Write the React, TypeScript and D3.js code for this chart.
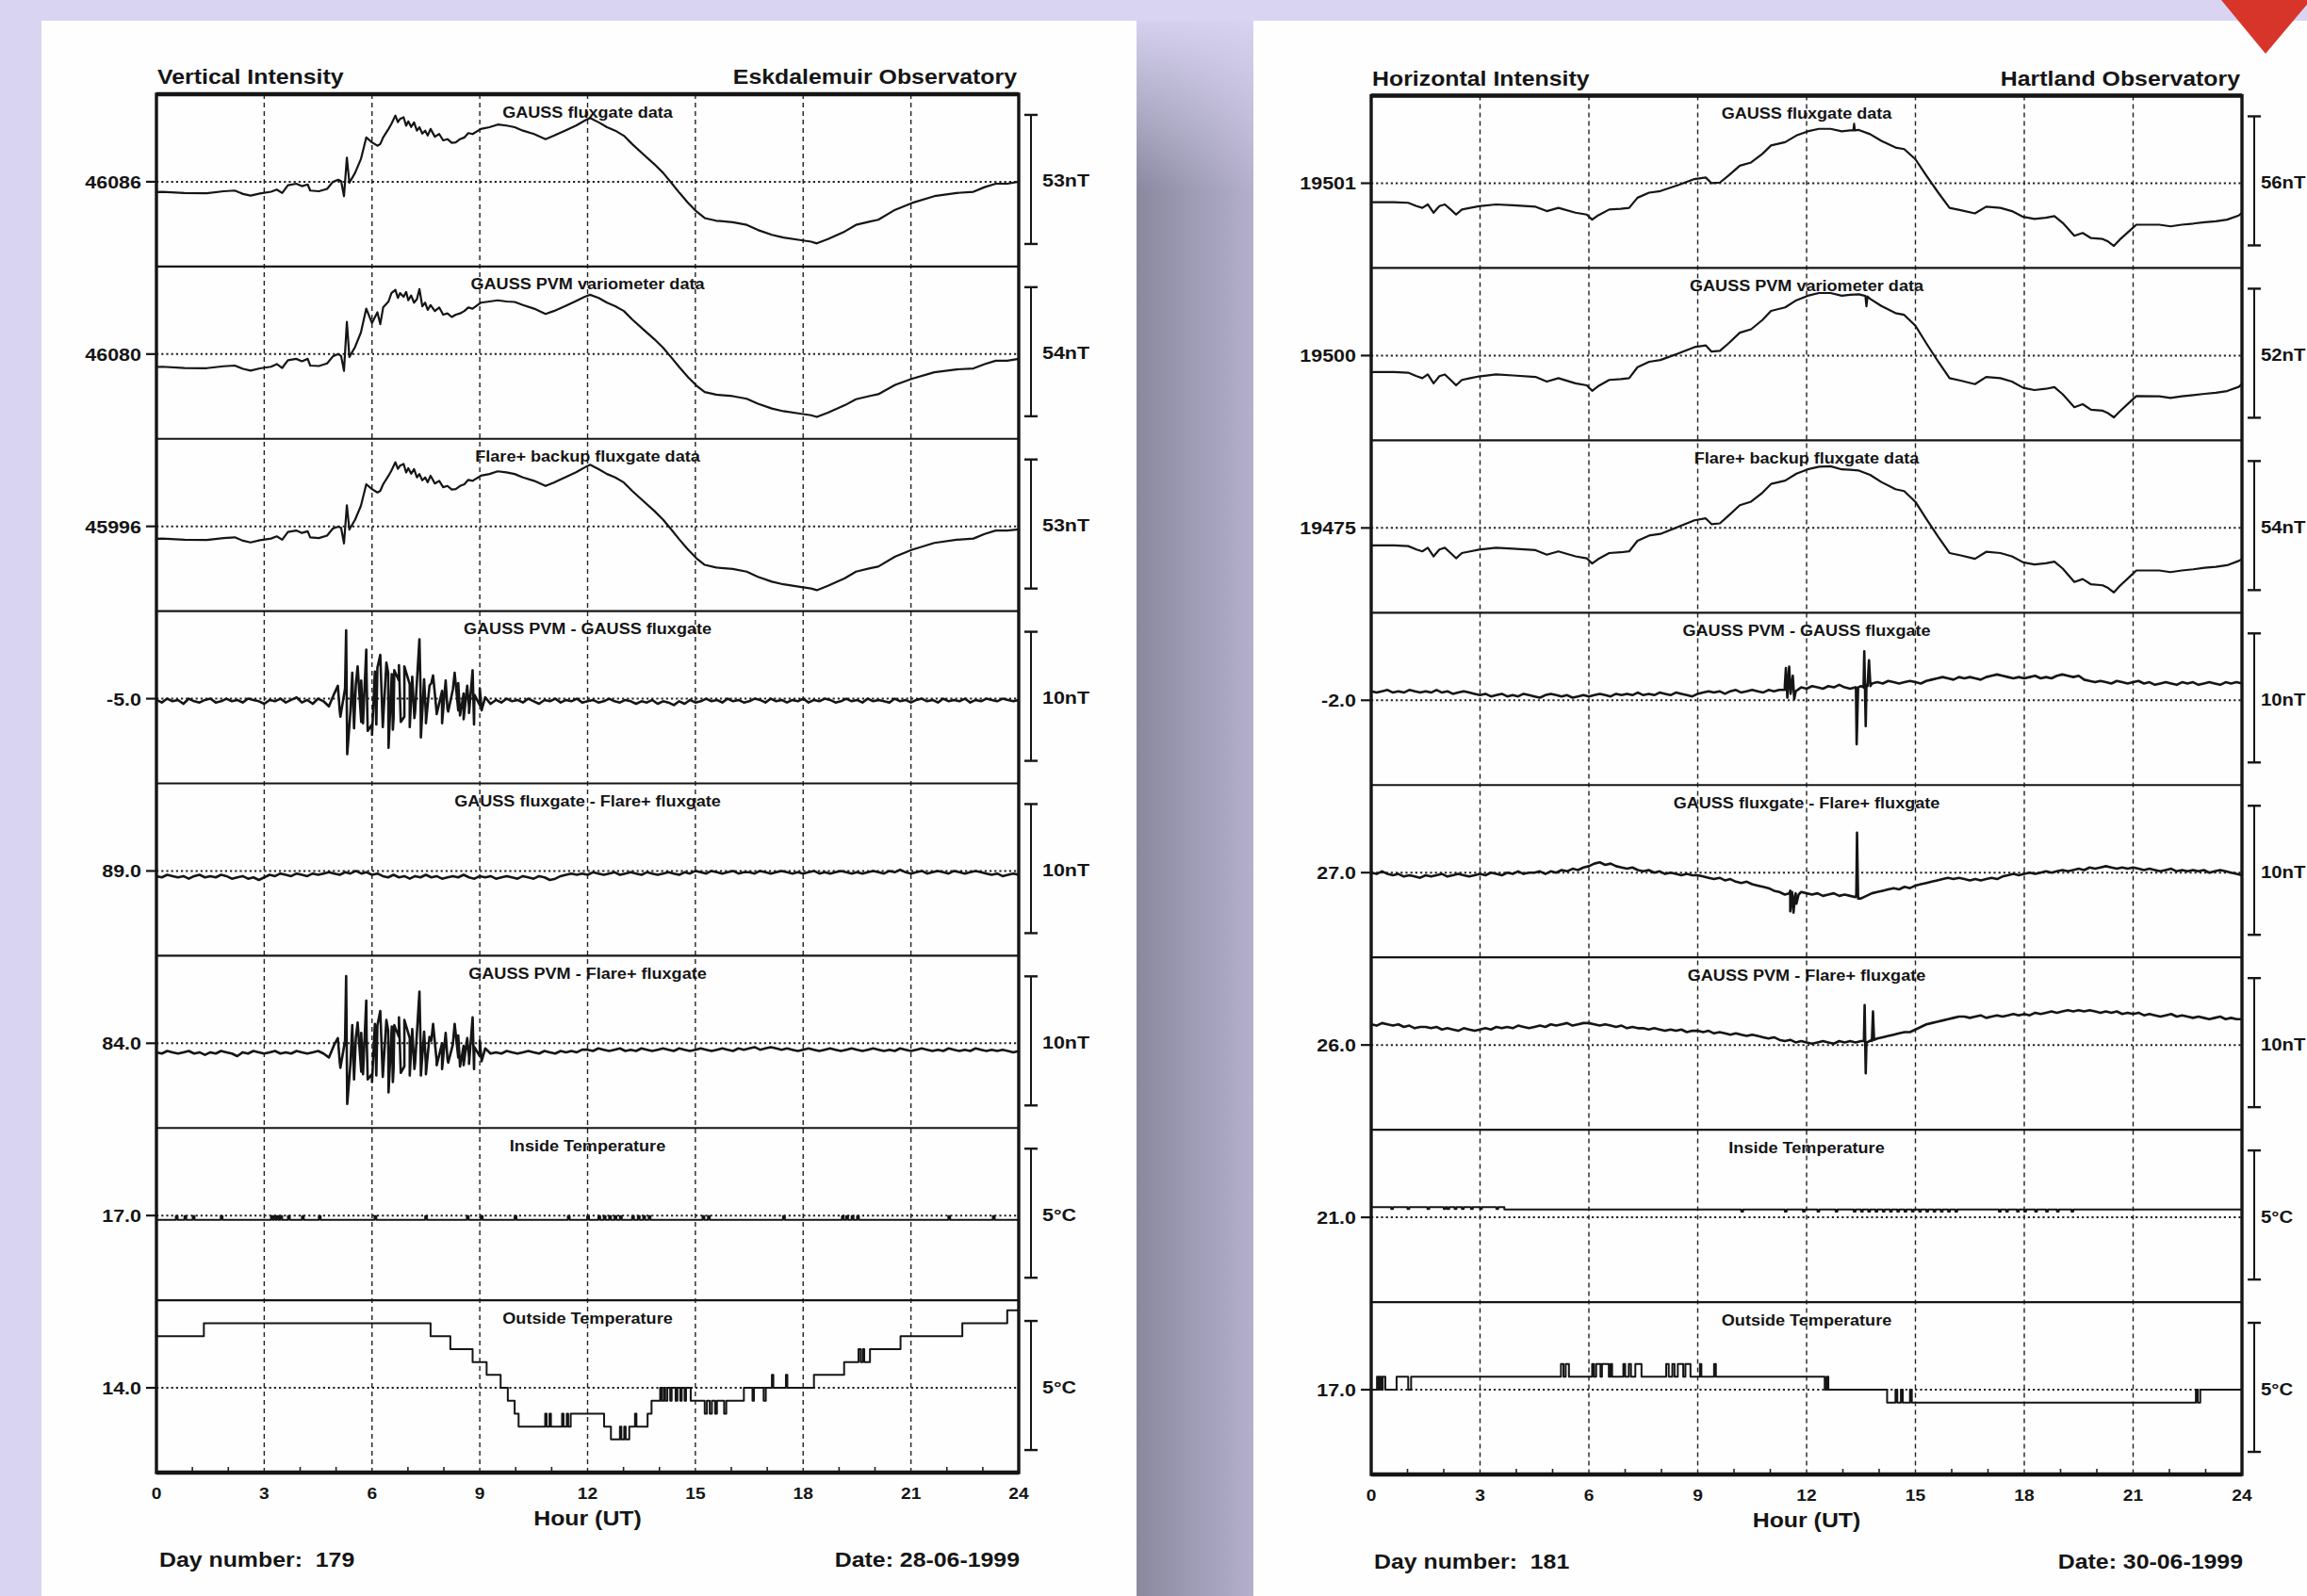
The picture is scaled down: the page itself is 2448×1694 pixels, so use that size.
import React from 'react';
import * as d3 from 'd3';

// ---------------- DATA ----------------
const HOUR_TICKS = [0, 3, 6, 9, 12, 15, 18, 21, 24];
const GRID_HOURS = [3, 6, 9, 12, 15, 18, 21];
const MINOR_HOURS = [1, 2, 4, 5, 7, 8, 10, 11, 13, 14, 16, 17, 19, 20, 22, 23];
const NOISE_STEP = 0.15; // hours between samples of the difference traces

const STRIP_TITLES = ['GAUSS fluxgate data', 'GAUSS PVM variometer data', 'Flare+ backup fluxgate data', 'GAUSS PVM - GAUSS fluxgate', 'GAUSS fluxgate - Flare+ fluxgate', 'GAUSS PVM - Flare+ fluxgate', 'Inside Temperature', 'Outside Temperature'];

// Eskdalemuir (left)
const L_REF_LABELS = ['46086', '46080', '45996', '-5.0', '89.0', '84.0', '17.0', '14.0'];
const L_CENTERS = [0, 0, 0, -5.0, 89.0, 84.0, 17.0, 14.0];
const L_BARS = [53, 54, 53, 10, 10, 10, 5, 5];
const L_BAR_LABELS = ['53nT', '54nT', '53nT', '10nT', '10nT', '10nT', '5°C', '5°C'];

// Hartland (right)
const R_REF_LABELS = ['19501', '19500', '19475', '-2.0', '27.0', '26.0', '21.0', '17.0'];
const R_CENTERS = [0, 0, 0, -2.0, 27.0, 26.0, 21.0, 17.0];
const R_BARS = [56, 52, 54, 10, 10, 10, 5, 5];
const R_BAR_LABELS = ['56nT', '52nT', '54nT', '10nT', '10nT', '10nT', '5°C', '5°C'];

// hours of the main-field samples (left), nT deviation from reference level
const T_L = [0.00,0.16,0.78,1.40,1.87,2.18,2.41,2.62,2.88,3.19,3.35,3.50,3.66,3.89,4.05,4.21,4.28,4.52,4.75,4.91,5.06,5.14,5.22,5.30,5.37,5.53,5.69,5.84,6.00,6.15,6.23,6.31,6.46,6.54,6.65,6.72,6.78,6.88,6.95,7.01,7.09,7.17,7.25,7.32,7.40,7.48,7.55,7.63,7.75,7.87,7.98,8.10,8.22,8.33,8.45,8.57,8.68,8.80,9.03,9.27,9.50,9.74,9.97,10.20,10.51,10.83,11.06,11.37,11.68,11.92,12.07,12.31,12.54,12.77,13.01,13.24,13.55,13.86,14.10,14.33,14.56,14.80,15.03,15.26,15.58,16.04,16.43,16.74,17.13,17.45,17.91,18.22,18.38,18.69,19.16,19.47,19.86,20.09,20.56,21.03,21.65,22.27,22.74,23.05,23.36,23.68,24.00];
const L1 = [-4.2,-4.1,-4.6,-4.7,-3.9,-3.6,-5.0,-5.7,-4.8,-4.1,
-3.2,-4.6,-1.4,-0.8,-1.8,-1.1,-3.6,-3.9,-2.9,0.0,
0.8,0.3,-5.9,9.9,-0.4,3.7,9.3,18.2,16.2,14.8,
15.5,18.2,21.7,23.8,27.2,24.5,25.8,26.5,23.0,24.8,
22.5,24.4,21.0,22.4,19.8,21.0,19.0,21.7,18.5,19.6,
17.0,17.5,16.0,16.2,17.5,18.2,20.0,19.6,21.7,22.4,
23.5,23.1,22.4,21.0,19.6,17.5,18.9,21.0,23.1,25.1,
26.2,24.4,22.4,21.0,18.9,15.5,11.3,7.2,3.7,-0.4,
-4.6,-8.7,-12.2,-14.9,-16.0,-16.6,-17.7,-19.8,-21.8,-22.9,
-23.9,-24.6,-25.3,-23.5,-20.4,-17.7,-16.3,-15.6,-11.5,-8.7,
-5.9,-4.6,-4.1,-2.2,-0.8,-0.8,0.0];
const L2 = [-5.4,-5.3,-5.8,-5.9,-5.1,-4.8,-6.2,-6.9,-6.0,-5.3,
-4.2,-5.8,-2.6,-2.0,-3.0,-2.0,-4.8,-5.0,-3.9,-1.0,
0.0,-0.8,-7.0,13.5,-1.2,3.0,9.0,19.0,13.0,17.5,
12.5,19.5,22.0,25.5,26.9,23.5,25.5,24.0,26.0,22.5,
24.5,21.5,23.0,27.2,20.0,21.5,18.5,20.5,18.0,19.5,
16.5,17.0,15.5,16.5,17.0,18.0,19.5,19.0,21.5,22.0,
22.5,22.0,21.8,20.5,19.0,16.8,18.0,20.0,22.2,24.0,
24.8,23.5,21.5,20.0,18.0,14.5,10.3,6.2,2.7,-1.4,
-5.6,-9.7,-13.2,-15.9,-17.0,-17.6,-18.7,-20.8,-22.8,-23.9,
-24.9,-25.6,-26.3,-24.5,-21.4,-18.9,-17.5,-16.8,-12.9,-10.3,
-7.6,-6.4,-6.0,-4.2,-2.8,-2.8,-2.0];
const L3 = [-5.1,-5.0,-5.5,-5.6,-4.8,-4.5,-5.9,-6.6,-5.7,-5.0,
-4.1,-5.5,-2.3,-1.7,-2.7,-2.0,-4.5,-4.8,-3.8,-0.9,
-0.1,-0.6,-7.0,8.6,-1.3,2.8,8.4,17.3,15.3,13.9,
14.6,17.3,20.8,22.9,26.3,23.6,24.9,25.6,22.1,23.9,
21.6,23.5,20.1,21.5,18.9,20.1,18.1,20.8,17.6,18.7,
16.1,16.6,15.1,15.3,16.6,17.3,19.1,18.7,20.8,21.5,
22.6,22.2,21.5,20.1,18.7,16.6,18.0,20.1,22.2,24.2,
25.3,23.5,21.5,20.1,18.0,14.6,10.4,6.3,2.8,-1.3,
-5.5,-9.6,-13.1,-15.8,-16.9,-17.5,-18.6,-20.7,-22.7,-23.8,
-24.8,-25.5,-26.2,-24.4,-21.3,-18.6,-17.2,-16.5,-12.4,-9.6,
-6.8,-5.5,-5.0,-3.1,-1.7,-1.7,-1.2];

// difference traces (left), sampled every NOISE_STEP hours
const L4 = [-5.1,-5.3,-5.0,-5.2,-5.1,-5.4,-5.0,-5.2,-5.3,-5.1,
-5.0,-5.3,-5.2,-5.0,-5.2,-5.1,-5.3,-5.0,-5.1,-5.2,
-5.4,-5.1,-5.2,-5.0,-5.3,-5.1,-4.9,-5.3,-5.1,-5.4,
-5.0,-5.2,
-5.6,-4.6,-5.9,-4.2,-6.0,-3.9,-6.8,-3.4,-7.0,-2.6,
-7.2,-3.0,-6.5,-3.6,-6.4,-3.9,-6.0,-4.2,-6.3,-3.8,
-6.1,-4.4,-5.8,-4.3,-5.9,-4.6,-5.7,-4.7,-5.5,-4.9,
-5.4,
-5.1,-5.3,-5.0,-5.2,-5.1,-5.3,-5.0,-5.2,-5.4,-5.1,
-5.2,-5.0,-5.3,-5.1,-5.2,-5.0,-5.3,-5.2,-5.1,-5.3,
-5.2,-5.0,-5.2,-5.3,-5.1,-5.2,-5.4,-5.2,-5.3,-5.1,
-5.4,-5.2,-5.3,-5.5,-5.2,-5.4,-5.1,-5.3,-5.2,-5.0,
-5.2,-5.1,-5.3,-5.0,-5.2,-5.1,-5.3,-5.2,-5.0,-5.1,
-5.3,-5.0,-5.2,-5.1,-5.3,-5.1,-5.2,-5.0,-5.3,-5.1,
-5.2,-5.0,-5.1,-5.3,-5.2,-5.0,-5.2,-5.1,-5.3,-5.0,
-5.2,-5.1,-5.2,-5.3,-5.0,-5.2,-5.1,-5.3,-5.1,-5.0,
-5.2,-5.1,-5.3,-5.0,-5.2,-5.1,-5.2,-5.0,-5.3,-5.1,
-5.2,-5.0,-5.1,-5.2,-5.0,-5.1,-5.2,-5.1];
const L4_SPIKES = [[5.05,-4.0],[5.12,-6.4],[5.28,0.3],[5.31,-9.3],[5.45,-3.0],[5.50,-7.3],[5.60,-2.5],[5.70,-3.6],[5.75,-6.9],[5.84,-1.2],[5.88,-7.5],[6.00,-7.8],[6.08,-2.9],[6.12,-7.0],[6.23,-1.6],[6.40,-2.2],[6.46,-8.8],[6.55,-3.1],[6.58,-7.4],[6.62,-2.8],[6.75,-2.4],[6.80,-6.8],[6.90,-2.5],[7.05,-7.2],[7.12,-3.3],[7.18,-6.5],[7.32,-0.4],[7.36,-8.0],[7.45,-3.5],[7.50,-6.9],[7.60,-4.0],[7.70,-3.2],[7.80,-6.2],[7.95,-6.9],[8.05,-3.6],[8.12,-6.0],[8.30,-3.0],[8.40,-3.8],[8.45,-6.3],[8.55,-6.6],[8.65,-4.0],[8.70,-6.1],[8.80,-2.8],[8.84,-7.0],[9.00,-4.2],[9.05,-5.9]];
const L5 = [88.6,88.5,88.7,88.6,88.5,88.6,88.4,88.6,88.7,88.5,88.6,88.5,88.7,88.6,88.4,88.5,88.6,
88.4,88.5,88.3,88.5,
88.7,88.6,88.8,88.7,88.6,88.8,88.7,88.6,88.8,88.7,
88.8,88.9,88.8,88.7,88.9,88.8,89.0,88.8,88.9,88.7,88.8,
88.6,88.5,88.7,88.5,88.6,88.4,88.6,88.5,88.7,88.5,88.6,88.4,88.5,88.6,88.5,88.7,88.5,88.4,88.6,88.5,88.6,88.4,88.5,88.6,88.5,88.4,88.6,88.5,88.4,88.6,88.5,88.3,88.4,
88.6,88.7,88.8,88.7,
88.8,88.7,88.9,88.8,88.7,88.8,88.9,88.7,88.8,88.9,88.8,88.7,88.9,88.8,88.7,88.8,88.9,88.8,88.7,88.9,88.8,
89.0,88.9,88.8,89.0,88.9,88.8,88.9,89.0,88.8,88.9,
88.9,88.8,89.0,88.9,88.8,88.9,89.0,88.9,88.8,88.9,
88.8,88.9,89.0,88.8,88.9,88.8,88.9,89.0,88.9,88.8,
88.9,88.8,88.9,89.0,88.9,88.8,89.0,88.9,89.1,88.9,
88.8,88.9,89.0,88.8,88.9,89.0,88.9,88.8,89.0,88.9,
88.8,88.9,89.0,88.9,
88.8,88.7,88.8,88.6,88.7,88.8,88.7];
const L6 = [83.3,83.2,83.4,83.3,83.2,83.3,83.4,83.2,83.3,83.1,
83.3,83.2,83.4,83.3,83.2,83.0,83.3,83.2,83.4,83.3,
83.2,83.3,83.4,83.2,83.3,83.2,83.4,83.3,83.2,83.3,
83.4,83.2,
82.9,83.9,82.6,84.2,82.4,84.4,81.8,84.6,81.6,85.4,
81.4,85.0,82.0,84.5,82.2,84.4,82.5,84.1,82.3,84.2,
82.6,84.0,82.8,83.9,82.9,83.8,82.9,83.7,83.0,83.6,
83.2,
83.3,83.2,83.4,83.3,83.2,83.3,83.4,83.3,83.2,83.4,83.3,83.2,83.4,83.3,83.4,83.3,83.5,
83.5,83.4,83.6,83.5,83.4,83.5,83.6,83.4,83.5,83.4,
83.6,83.5,83.4,83.5,83.6,83.5,83.4,83.6,83.5,83.4,
83.5,83.6,83.5,83.4,83.5,83.6,83.5,83.4,83.6,83.5,
83.6,83.7,83.5,83.6,83.7,83.6,83.5,83.6,83.5,83.4,
83.5,83.6,83.5,83.4,83.5,83.6,83.5,83.4,83.5,83.6,
83.5,83.4,83.5,83.6,83.5,83.4,83.5,83.4,83.6,83.5,
83.4,83.5,83.6,83.5,83.4,83.5,83.4,83.6,83.5,83.4,
83.5,83.4,83.6,83.5,83.4,83.5,83.4,83.5,83.4,83.3,
83.4];
const L6_SPIKES = [[5.05,84.4],[5.12,82.1],[5.28,89.2],[5.31,79.3],[5.45,85.4],[5.50,81.2],[5.60,85.6],[5.70,84.8],[5.75,81.6],[5.84,87.3],[5.88,81.2],[6.00,81.0],[6.08,85.5],[6.12,81.5],[6.23,86.5],[6.40,85.8],[6.46,80.2],[6.55,85.3],[6.58,81.0],[6.62,85.4],[6.75,86.0],[6.80,81.7],[6.90,85.8],[7.05,81.5],[7.12,85.1],[7.18,82.0],[7.32,88.0],[7.36,81.5],[7.45,84.9],[7.50,81.6],[7.60,84.5],[7.70,85.5],[7.80,82.3],[7.95,82.0],[8.05,84.8],[8.12,82.5],[8.30,85.5],[8.40,84.6],[8.45,82.2],[8.55,82.3],[8.65,84.4],[8.70,82.4],[8.80,86.0],[8.84,82.0],[9.00,84.2],[9.05,82.6]];

// temperatures (left): [hour, °C] steps
const L7_LEVELS = [[0, 16.83], [24, 16.83]];
const L7_BLIPS = [0.54,0.78,1.01,1.79,3.19,3.27,3.35,3.45,3.66,4.05,4.52,6.07,7.48,8.64,9.03,9.97,11.45,11.99,12.3,12.45,12.6,12.75,12.9,13.24,13.4,13.55,13.7,15.2,15.35,17.44,19.08,19.2,19.35,19.5,22.04,23.28];
const L8_STEPS = [[0,16.0],[1.32,16.5],[7.63,16.0],[8.18,15.5],[8.80,15.0],[9.19,14.5],[9.58,14.0],[9.78,13.5],[9.97,13.0],[10.08,12.5],[10.82,13.0],[10.86,12.5],[10.94,13.0],[10.98,12.5],[11.29,13.0],[11.33,12.5],[11.42,13.0],[11.46,12.5],[11.53,13.0],[12.46,12.5],[12.65,12.0],[12.90,12.5],[12.94,12.0],[13.02,12.5],[13.06,12.0],[13.16,12.5],[13.32,13.0],[13.36,12.5],[13.67,13.0],[13.78,13.5],[14.02,14.0],[14.06,13.5],[14.12,14.0],[14.16,13.5],[14.22,14.0],[14.30,13.5],[14.34,14.0],[14.45,13.5],[14.50,14.0],[14.58,13.5],[14.62,14.0],[14.70,13.5],[14.74,14.0],[14.87,13.5],[15.26,13.0],[15.32,13.5],[15.40,13.0],[15.46,13.5],[15.55,13.0],[15.60,13.5],[15.80,13.0],[15.86,13.5],[16.35,14.0],[16.59,13.5],[16.63,14.0],[16.90,13.5],[16.96,14.0],[17.13,14.5],[17.17,14.0],[17.52,14.5],[17.56,14.0],[18.30,14.5],[19.14,15.0],[19.54,15.5],[19.60,15.0],[19.66,15.5],[19.70,15.0],[19.86,15.5],[20.71,16.0],[22.43,16.5],[23.68,17.0],[24,17.0]];

// main-field samples (right)
const T_R = [0,0.08,0.63,1.02,1.25,1.41,1.56,1.72,1.88,2.03,2.19,2.34,2.50,2.73,2.97,3.44,3.91,4.53,4.84,5.16,5.63,5.94,6.09,6.25,6.56,6.88,7.11,7.34,7.66,7.97,8.44,8.91,9.22,9.38,9.61,9.84,10.16,10.47,10.78,11.02,11.41,11.72,12.03,12.34,12.66,12.97,13.20,13.44,13.75,14.06,14.45,14.69,15.00,15.31,15.63,15.94,16.25,16.64,16.95,17.34,17.66,17.97,18.28,18.59,18.83,19.06,19.38,19.61,19.84,20.16,20.31,20.47,20.63,20.94,21.09,21.72,22.03,22.34,22.66,22.97,23.28,23.59,23.91,24.0];
const R1 = [-8.3,-8.2,-8.2,-8.5,-9.9,-10.7,-9.2,-12.8,-9.9,-9.2,-11.4,-13.6,-11.4,-10.7,-10.0,-9.2,-9.6,-10.2,-12.1,-10.7,-12.8,-13.6,-15.8,-14.0,-11.4,-11.1,-10.7,-6.3,-4.1,-3.4,
-0.9,1.8,2.5,0.0,0.3,3.2,7.6,9.0,12.7,16.4,17.8,20.7,22.5,23.6,23.6,22.5,22.9,23.1,21.3,18.4,15.5,14.8,10.4,3.1,-4.1,-10.7,
-11.7,-13.1,-10.2,-10.7,-12.1,-14.6,-15.5,-15.0,-14.3,-17.2,-22.8,-21.6,-23.8,-24.2,-25.3,-27.2,-24.5,-20.1,-18.0,-18.0,-18.7,-18.0,-17.5,-16.9,-16.5,-15.8,-14.0,-12.8];
const R1_SPIKES = [[13.29,22.9],[13.31,25.8],[13.33,22.9]];
const R2 = [-6.7,-6.6,-6.6,-6.9,-8.3,-9.1,-7.6,-11.2,-8.3,-7.6,-9.8,-12.0,-9.8,-9.1,-8.4,-7.6,-8.0,-8.6,-10.5,-9.1,-11.2,-12.0,-14.2,-12.4,-9.8,-9.5,-9.1,-4.7,-2.5,-1.8,
0.7,3.4,4.1,1.6,1.9,4.8,9.2,10.6,14.3,18.0,19.4,22.3,24.1,25.2,25.2,24.1,24.5,24.7,22.9,20.0,17.1,16.4,12.0,4.7,-2.5,-9.1,
-10.1,-11.5,-8.6,-9.1,-10.5,-13.0,-13.9,-13.4,-12.7,-15.6,-20.8,-19.6,-21.8,-22.2,-23.2,-24.9,-22.5,-18.3,-16.3,-16.4,-17.1,-16.4,-15.9,-15.4,-15.0,-14.3,-12.6,-11.4];
const R2_SPIKES = [[13.62,24.0],[13.65,19.8],[13.68,23.8]];
const R3 = [-7.4,-7.3,-7.3,-7.6,-9.0,-9.8,-8.3,-11.9,-9.0,-8.3,-10.5,-12.7,-10.5,-9.8,-9.1,-8.3,-8.7,-9.3,-11.2,-9.8,-11.9,-12.7,-14.9,-13.1,-10.5,-10.2,-9.8,-5.4,-3.2,-2.5,
0.3,3.2,4.0,1.6,1.9,5.0,9.5,11.0,14.7,18.4,19.8,22.7,24.5,25.6,25.8,24.5,24.3,24.0,22.2,19.2,16.2,15.4,10.9,3.5,-3.8,-10.5,
-11.5,-12.9,-10.0,-10.5,-11.9,-14.4,-15.3,-14.8,-14.1,-17.0,-22.6,-21.4,-23.6,-24.0,-25.1,-27.0,-24.3,-19.9,-17.8,-17.8,-18.5,-17.8,-17.3,-16.7,-16.3,-15.6,-13.8,-13.0];

// difference traces (right)
const R4 = [-1.3,-1.4,-1.3,-1.2,-1.4,-1.3,-1.4,-1.2,-1.3,-1.4,-1.3,-1.4,-1.2,-1.4,-1.3,-1.5,-1.4,-1.3,-1.4,-1.5,
-1.6,-1.5,-1.7,-1.6,-1.5,-1.7,-1.6,-1.7,-1.5,-1.6,-1.7,-1.8,-1.6,-1.5,-1.6,-1.7,-1.6,-1.8,-1.7,-1.6,
-1.7,-1.6,-1.5,-1.6,-1.7,-1.5,-1.6,-1.5,-1.6,-1.4,-1.6,-1.5,-1.6,-1.4,-1.5,-1.6,-1.4,-1.5,-1.6,-1.7,-1.5,
-1.4,-1.3,-1.4,-1.3,-1.5,-1.3,-1.2,-1.4,-1.3,-1.2,-1.3,-1.4,-1.2,-1.3,-1.2,
-1.2,-1.0,-1.3,
-1.0,-1.1,-0.9,-1.0,-1.1,-0.9,-1.0,-0.8,-1.0,-1.1,
-1.0,-0.9,-0.8,-0.7,
-0.6,-0.7,-0.5,-0.6,-0.7,-0.6,-0.5,-0.6,-0.7,-0.5,-0.4,
-0.3,-0.2,-0.3,-0.4,-0.2,-0.3,-0.2,-0.3,-0.4,-0.2,-0.1,0.0,-0.1,
-0.2,-0.3,-0.2,-0.3,-0.2,-0.1,-0.3,-0.2,-0.3,-0.1,0.0,-0.1,-0.2,-0.1,
-0.4,-0.5,-0.6,-0.5,-0.6,-0.7,-0.5,-0.6,-0.7,-0.6,-0.5,-0.7,-0.6,-0.8,-0.7,-0.6,-0.7,-0.8,-0.6,-0.7,-0.6,-0.8,-0.7,-0.6,-0.7,-0.8,-0.6,-0.7,-0.6,-0.7];
const R4_SPIKES = [[11.40,-0.9],[11.43,0.5],[11.47,-1.8],[11.52,0.6],[11.56,-1.5],[11.62,-0.1],[11.66,-1.9],[13.36,-1.0],[13.38,-5.4],[13.42,-1.0],[13.57,-1.0],[13.59,1.8],[13.63,-4.0],[13.68,-0.9],[13.72,1.1],[13.76,-0.9]];
const R5 = [27.0,26.9,27.1,26.9,26.8,26.9,26.7,26.8,26.7,26.6,
26.8,26.7,26.8,26.9,26.7,26.8,26.9,26.8,26.7,26.8,
26.9,26.8,27.0,26.9,26.8,27.0,26.9,27.1,26.9,27.0,
27.0,27.1,26.9,27.1,27.0,27.2,27.1,27.3,27.2,27.4,
27.5,27.7,27.8,27.6,27.7,27.5,27.4,27.3,27.4,27.2,
27.1,27.2,27.0,27.1,26.9,27.0,26.9,26.8,26.9,26.8,
26.8,26.7,26.6,26.5,26.6,26.4,26.5,26.3,26.2,26.3,
26.1,26.0,25.9,25.8,25.6,25.5,25.3,25.6,25.4,25.5,
25.4,25.3,25.4,25.2,25.3,25.4,25.2,25.3,25.2,25.1,
25.0,25.2,25.4,25.5,25.6,25.7,25.8,25.7,25.9,25.8,
26.0,26.1,26.2,26.3,26.4,26.5,26.6,26.5,26.6,26.5,
26.4,26.5,26.4,26.5,26.6,26.5,26.7,26.8,26.9,26.8,
26.9,27.0,26.9,27.0,27.1,27.0,27.1,27.2,27.1,27.2,
27.3,27.2,27.4,27.3,27.4,27.5,27.4,27.3,27.4,27.3,
27.4,27.3,27.2,27.3,27.2,27.1,27.2,27.3,27.1,27.2,
27.1,27.2,27.1,27.2,27.0,27.1,27.2,27.1,27.0,26.9,26.8];
const R5_SPIKES = [[11.52,25.4],[11.55,24.0],[11.60,25.5],[11.64,23.9],[11.68,25.2],[11.72,24.6],[11.78,25.3],[13.37,25.3],[13.39,30.1],[13.42,25.0]];
const R6 = [27.6,27.5,27.7,27.6,27.5,27.6,27.4,27.5,27.3,27.4,
27.4,27.3,27.4,27.2,27.3,27.2,27.1,27.3,27.2,27.1,
27.2,27.3,27.2,27.4,27.3,27.4,27.3,27.5,27.4,27.3,
27.4,27.5,27.4,27.6,27.5,27.6,27.7,27.5,27.6,27.7,
27.7,27.6,27.5,27.6,27.5,27.4,27.5,27.3,27.4,27.3,
27.3,27.2,27.3,27.2,27.1,27.2,27.1,27.2,27.0,27.1,
27.1,27.0,27.1,26.9,27.0,26.9,26.8,26.9,26.8,26.7,
26.8,26.7,26.6,26.5,26.6,26.4,26.3,26.4,26.2,26.3,
26.2,26.1,26.2,26.3,26.2,26.1,26.3,26.2,26.3,26.2,
26.3,26.2,26.4,26.5,26.6,26.7,26.8,26.9,27.0,27.0,
27.2,27.4,27.6,27.7,27.8,27.9,28.0,28.1,28.2,28.2,
28.1,28.2,28.3,28.1,28.2,28.3,28.2,28.3,28.4,28.3,
28.4,28.3,28.5,28.4,28.5,28.6,28.5,28.6,28.7,28.6,
28.7,28.6,28.7,28.6,28.5,28.6,28.5,28.6,28.4,28.5,
28.4,28.5,28.3,28.4,28.3,28.2,28.3,28.4,28.2,28.3,
28.2,28.1,28.2,28.1,28.0,28.1,28.2,28.0,28.1,28.0,28.0];
const R6_SPIKES = [[13.58,26.3],[13.60,29.1],[13.63,23.8],[13.67,26.2],[13.80,26.3],[13.83,28.6],[13.86,26.4]];

// temperatures (right)
const R7_LEVELS = [[0, 21.4], [3.67, 21.3], [24, 21.3]];
const R7_BLIPS = [0.55,1.0,1.55,2.0,2.1,2.3,2.5,2.75,3.0,3.45,10.2,11.4,11.9,12.3,12.8,13.3,13.5,13.7,13.9,14.1,14.3,14.5,14.7,14.9,15.1,15.3,15.5,15.7,15.9,16.1,17.3,17.5,17.8,18.0,18.3,18.6,18.9,19.3];
const R8_STEPS = [[0,17.0],[0.16,17.5],[0.20,17.0],[0.24,17.5],[0.28,17.0],[0.32,17.5],[0.39,17.0],[0.70,17.5],[1.02,17.0],[1.10,17.5],[5.23,18.0],[5.30,17.5],[5.36,18.0],[5.45,17.5],[6.09,18.0],[6.14,17.5],[6.20,18.0],[6.32,17.5],[6.36,18.0],[6.55,17.5],[6.60,18.0],[6.64,17.5],[6.95,18.0],[7.00,17.5],[7.10,18.0],[7.16,17.5],[7.28,18.0],[7.45,17.5],[8.13,18.0],[8.20,17.5],[8.30,18.0],[8.36,17.5],[8.45,18.0],[8.60,17.5],[8.66,18.0],[8.80,17.5],[9.06,18.0],[9.10,17.5],[9.45,18.0],[9.50,17.5],[12.50,17.0],[12.55,17.5],[12.60,17.0],[14.22,16.5],[14.45,17.0],[14.50,16.5],[14.60,17.0],[14.65,16.5],[14.85,17.0],[14.90,16.5],[22.73,17.0],[22.78,16.5],[22.85,17.0],[24,17.0]];

// ---------------- helpers ----------------
type Pt = [number, number];
const zipT = (t: number[], v: number[]): Pt[] => {
  const n = Math.min(t.length, v.length);
  const out: Pt[] = [];
  for (let i = 0; i < n; i++) out.push([t[i], v[i]]);
  return out;
};
const uniform = (v: number[]): Pt[] => v.map((d, i) => [i * NOISE_STEP, d] as Pt);
const merge = (a: Pt[], b: number[][] = []): Pt[] => [...a, ...(b as Pt[])].sort((p, q) => p[0] - q[0]);
const withBlips = (levels: number[][], blips: number[], delta: number, w = 0.05): Pt[] => {
  const out: Pt[] = levels.map(d => [d[0], d[1]] as Pt);
  blips.forEach(h => {
    let lvl = levels[0][1];
    levels.forEach(l => { if (l[0] <= h) lvl = l[1]; });
    out.push([h, lvl + delta], [h + w, lvl]);
  });
  return out.sort((p, q) => p[0] - q[0]);
};

const FONT = "'Liberation Sans', Arial, Helvetica, sans-serif";
const SX = 1.13;
const INK = '#151515';

function Txt({ x, y, size, anchor = 'start', children }: any) {
  return (
    <text transform={`translate(${x},${y}) scale(${SX},1)`} fontFamily={FONT} fontWeight="bold"
      fontSize={size} textAnchor={anchor} fill={INK} style={{ whiteSpace: 'pre' }}>{children}</text>
  );
}

interface StripDef { data: Pt[]; kind: 'main' | 'noise' | 'step'; }

function Panel({ x0, x1, y0, y1, left, right, day, date, refLabels, centers, bars, barLabels, strips, barLabelDx, barLabelSize }: any) {
  const x = d3.scaleLinear().domain([0, 24]).range([x0, x1]);
  const sh = (y1 - y0) / 8;
  const half = 68.5;
  const els: any[] = [];
  GRID_HOURS.forEach(h => els.push(
    <line key={'g' + h} x1={x(h)} x2={x(h)} y1={y0} y2={y1} stroke="#222" strokeWidth={1.4} strokeDasharray="5 4" />
  ));
  MINOR_HOURS.forEach(h => els.push(
    <line key={'m' + h} x1={x(h)} x2={x(h)} y1={y1 - 6} y2={y1} stroke="#222" strokeWidth={1.6} />
  ));
  (strips as StripDef[]).forEach((s, i) => {
    const top = y0 + i * sh;
    const mid = top + sh / 2 + 1.5;
    const barMid = top + sh / 2 - 1;
    const y = d3.scaleLinear().domain([centers[i] - bars[i] / 2, centers[i] + bars[i] / 2]).range([mid + half, mid - half]);
    const line = d3.line<Pt>().x(d => x(d[0])).y(d => y(d[1])).curve(s.kind === 'step' ? d3.curveStepAfter : d3.curveLinear);
    const sw = s.kind === 'noise' ? 2.6 : s.kind === 'main' ? 2.2 : 2.0;
    if (i > 0) els.push(<line key={'sep' + i} x1={x0} x2={x1} y1={top} y2={top} stroke={INK} strokeWidth={2.2} />);
    els.push(<line key={'ref' + i} x1={x0} x2={x1} y1={mid} y2={mid} stroke="#222" strokeWidth={2} strokeDasharray="2.2 3" />);
    els.push(<line key={'yt' + i} x1={x0 - 11} x2={x0} y1={mid} y2={mid} stroke={INK} strokeWidth={2.2} />);
    els.push(<Txt key={'yl' + i} x={x0 - 16} y={mid + 7} size={19} anchor="end">{refLabels[i]}</Txt>);
    els.push(<Txt key={'st' + i} x={(x0 + x1) / 2} y={top + 24.5} size={16} anchor="middle">{STRIP_TITLES[i]}</Txt>);
    els.push(<path key={'tr' + i} d={line(s.data) || ''} fill="none" stroke={INK} strokeWidth={sw} strokeLinejoin="round" />);
    const bx = x1 + 13;
    els.push(
      <g key={'sb' + i} stroke={INK} strokeWidth={2}>
        <line x1={bx} x2={bx} y1={barMid - half} y2={barMid + half} />
        <line x1={bx - 7} x2={bx + 7} y1={barMid - half} y2={barMid - half} strokeWidth={2.4} />
        <line x1={bx - 7} x2={bx + 7} y1={barMid + half} y2={barMid + half} strokeWidth={2.4} />
      </g>
    );
    els.push(<Txt key={'bl' + i} x={x1 + barLabelDx} y={barMid + 8} size={barLabelSize}>{barLabels[i]}</Txt>);
  });
  els.push(<rect key="frame" x={x0} y={y0} width={x1 - x0} height={y1 - y0} fill="none" stroke={INK} strokeWidth={3.4} />);
  els.push(<line key="topthick" x1={x0} x2={x1} y1={y0} y2={y0} stroke={INK} strokeWidth={4.5} />);
  els.push(<line key="botthick" x1={x0} x2={x1} y1={y1} y2={y1} stroke={INK} strokeWidth={4.5} />);
  HOUR_TICKS.forEach(h => els.push(<Txt key={'xt' + h} x={x(h)} y={y1 + 28} size={17} anchor="middle">{String(h)}</Txt>));
  els.push(<Txt key="xtitle" x={(x0 + x1) / 2} y={y1 + 56} size={22} anchor="middle">Hour (UT)</Txt>);
  els.push(<Txt key="ttl" x={x0 + 1} y={y0 - 11} size={22}>{left}</Txt>);
  els.push(<Txt key="obs" x={x1 - 2} y={y0 - 11} size={22} anchor="end">{right}</Txt>);
  els.push(<Txt key="day" x={x0 + 3} y={y1 + 100} size={22}>{day}</Txt>);
  els.push(<Txt key="date" x={x1 + 1} y={y1 + 100} size={22} anchor="end">{date}</Txt>);
  return <g>{els}</g>;
}

export default function App() {
  const leftStrips: StripDef[] = [
    { data: zipT(T_L, L1), kind: 'main' },
    { data: zipT(T_L, L2), kind: 'main' },
    { data: zipT(T_L, L3), kind: 'main' },
    { data: merge(uniform(L4), L4_SPIKES), kind: 'noise' },
    { data: uniform(L5), kind: 'noise' },
    { data: merge(uniform(L6), L6_SPIKES), kind: 'noise' },
    { data: withBlips(L7_LEVELS, L7_BLIPS, 0.15), kind: 'step' },
    { data: L8_STEPS as Pt[], kind: 'step' },
  ];
  const rightStrips: StripDef[] = [
    { data: merge(zipT(T_R, R1), R1_SPIKES), kind: 'main' },
    { data: merge(zipT(T_R, R2), R2_SPIKES), kind: 'main' },
    { data: zipT(T_R, R3), kind: 'main' },
    { data: merge(uniform(R4), R4_SPIKES), kind: 'noise' },
    { data: merge(uniform(R5), R5_SPIKES), kind: 'noise' },
    { data: merge(uniform(R6), R6_SPIKES), kind: 'noise' },
    { data: withBlips(R7_LEVELS, R7_BLIPS, -0.08), kind: 'step' },
    { data: R8_STEPS as Pt[], kind: 'step' },
  ];
  return (
    <svg width={2448} height={1694} viewBox="0 0 2448 1694" style={{ position: 'absolute', left: 0, top: 0 }}>
      <defs>
        <linearGradient id="gapH" x1="0" x2="1" y1="0" y2="0">
          <stop offset="0" stopColor="#8a889f" />
          <stop offset="1" stopColor="#b4b0cd" />
        </linearGradient>
        <linearGradient id="gapV" x1="0" x2="0" y1="0" y2="1">
          <stop offset="0" stopColor="#d8d4f2" stopOpacity={0.95} />
          <stop offset="1" stopColor="#d8d4f2" stopOpacity={0} />
        </linearGradient>
      </defs>
      <rect x={0} y={0} width={2448} height={1694} fill="#d8d4f2" />
      <rect x={1206} y={22} width={124} height={1672} fill="url(#gapH)" />
      <rect x={1206} y={22} width={124} height={180} fill="url(#gapV)" />
      <rect x={44} y={22} width={1162} height={1672} fill="#fefefe" />
      <rect x={1330} y={22} width={1118} height={1672} fill="#fefefe" />
      <Panel x0={166} x1={1081} y0={100} y1={1563} left="Vertical Intensity" right="Eskdalemuir Observatory"
        day="Day number:  179" date="Date: 28-06-1999" refLabels={L_REF_LABELS} centers={L_CENTERS}
        bars={L_BARS} barLabels={L_BAR_LABELS} strips={leftStrips} barLabelDx={25} barLabelSize={19} />
      <Panel x0={1455} x1={2379} y0={101.5} y1={1565} left="Horizontal Intensity" right="Hartland Observatory"
        day="Day number:  181" date="Date: 30-06-1999" refLabels={R_REF_LABELS} centers={R_CENTERS}
        bars={R_BARS} barLabels={R_BAR_LABELS} strips={rightStrips} barLabelDx={20} barLabelSize={18} />
      <polygon points="2357,0 2404,57 2452,0" fill="#d8352a" />
    </svg>
  );
}
